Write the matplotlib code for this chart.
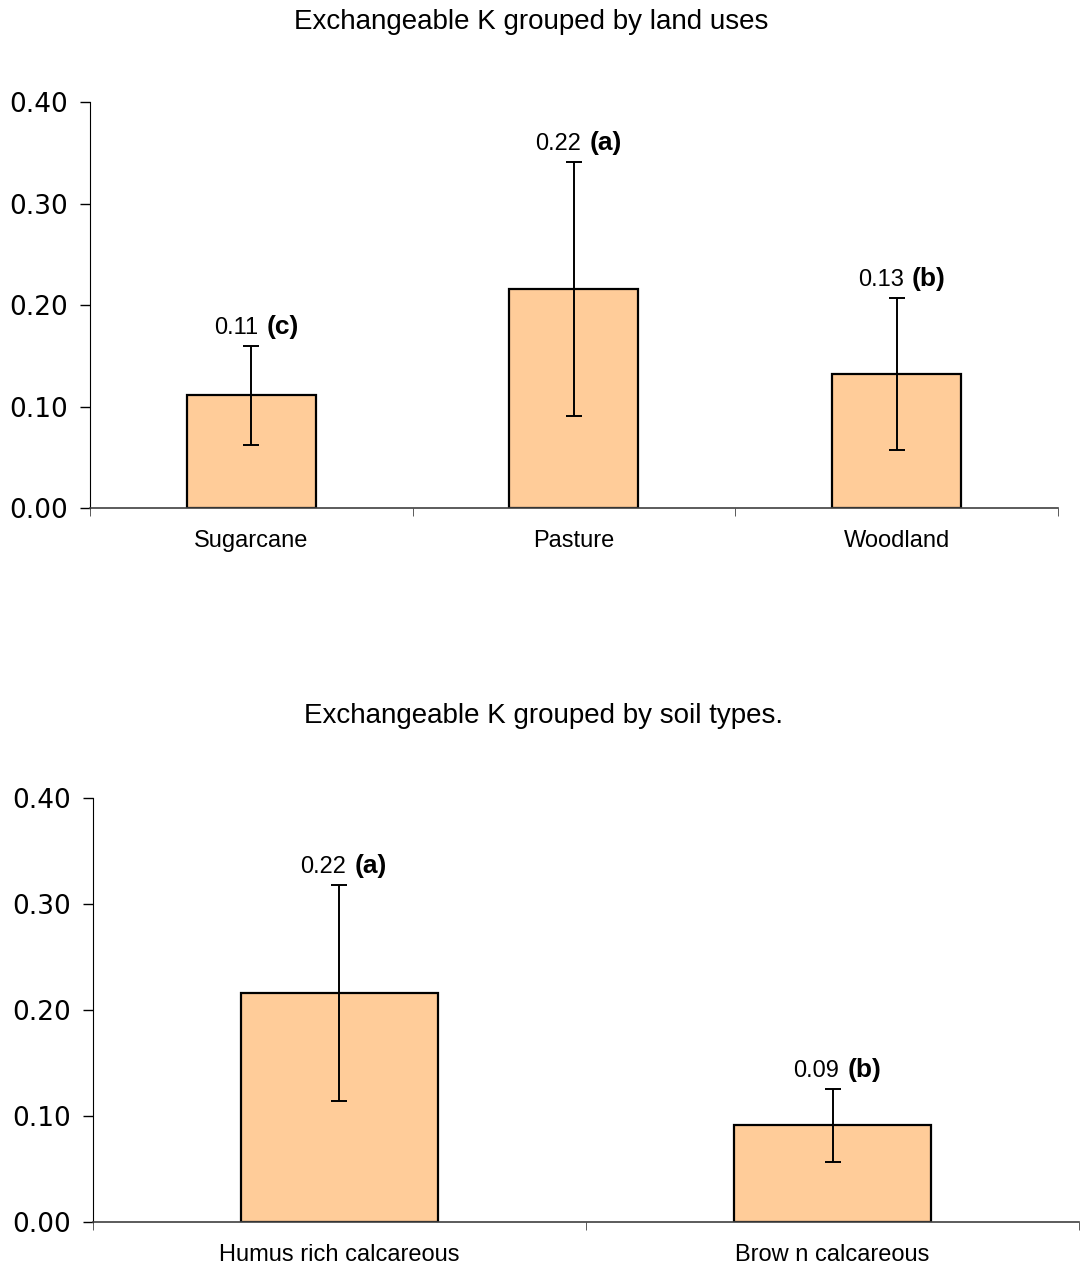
import numpy as np
import matplotlib
matplotlib.use('Agg')
import matplotlib.pyplot as plt

# data
land_uses = ['Sugarcane', 'Pasture', 'Woodland']
land_means = [0.111, 0.216, 0.132]
land_err = [0.049, 0.125, 0.075]
land_letters = ['(c)', '(a)', '(b)']

soils = ['Humus rich calcareous', 'Brow n calcareous']
soil_means = [0.216, 0.091]
soil_err = [0.102, 0.034]
soil_letters = ['(a)', '(b)']

yticks = [0.0, 0.1, 0.2, 0.3, 0.4]

bar_col = '#FFCC99'
arial = 'Liberation Sans'

fig = plt.figure(figsize=(10.8, 12.71), dpi=100)


def panel(ax, cats, means, errs, letters, title, title_y, title_x):
    x = np.arange(len(cats))
    ax.bar(x, means, width=0.4, color=bar_col, edgecolor='black', linewidth=1.6, zorder=2)
    ax.errorbar(x, means, yerr=errs, fmt='none', ecolor='black', elinewidth=1.4,
                capsize=6, capthick=1.4, zorder=3)
    for xi, m, e, let in zip(x, means, errs, letters):
        lab = '%.2f' % m
        ax.annotate(lab, (xi, m + e), xytext=(5, 5), textcoords='offset points',
                    ha='right', va='bottom', fontsize=17, family=arial)
        ax.annotate(let, (xi, m + e), xytext=(11, 5), textcoords='offset points',
                    ha='left', va='bottom', fontsize=19, family=arial, fontweight='bold')
    ax.set_xlim(-0.5, len(cats) - 0.5)
    ax.set_ylim(0, 0.4)
    ax.set_yticks(yticks)
    ax.set_yticklabels(['%.2f' % t for t in yticks], fontsize=19, family='DejaVu Sans')
    ax.set_xticks(x)
    ax.set_xticklabels(cats, fontsize=17, family=arial)
    ax.tick_params(axis='x', which='major', length=0, pad=16)
    ax.set_xticks(np.arange(len(cats) + 1) - 0.5, minor=True)
    ax.tick_params(axis='x', which='minor', length=6, direction='out', color='#404040')
    ax.tick_params(axis='y', length=7, direction='out', width=1, pad=8.5)
    ax.spines['top'].set_visible(False)
    ax.spines['right'].set_visible(False)
    ax.spines['left'].set_color('black')
    ax.spines['bottom'].set_color('#404040')
    ax.spines['bottom'].set_linewidth(1.2)
    fig.text(title_x, title_y, title, ha='center', va='center', fontsize=20, family=arial)


ax1 = fig.add_axes([0.0833, 0.6003, 0.8963, 0.3194])
panel(ax1, land_uses, land_means, land_err, land_letters,
      'Exchangeable K grouped by land uses', 1 - 22 / 1271, 531 / 1080)

ax2 = fig.add_axes([0.0861, 0.0386, 0.9130, 0.3336])
panel(ax2, soils, soil_means, soil_err, soil_letters,
      'Exchangeable K grouped by soil types.', 1 - 716 / 1271, 544 / 1080)

fig.savefig('out.png', dpi=100)
